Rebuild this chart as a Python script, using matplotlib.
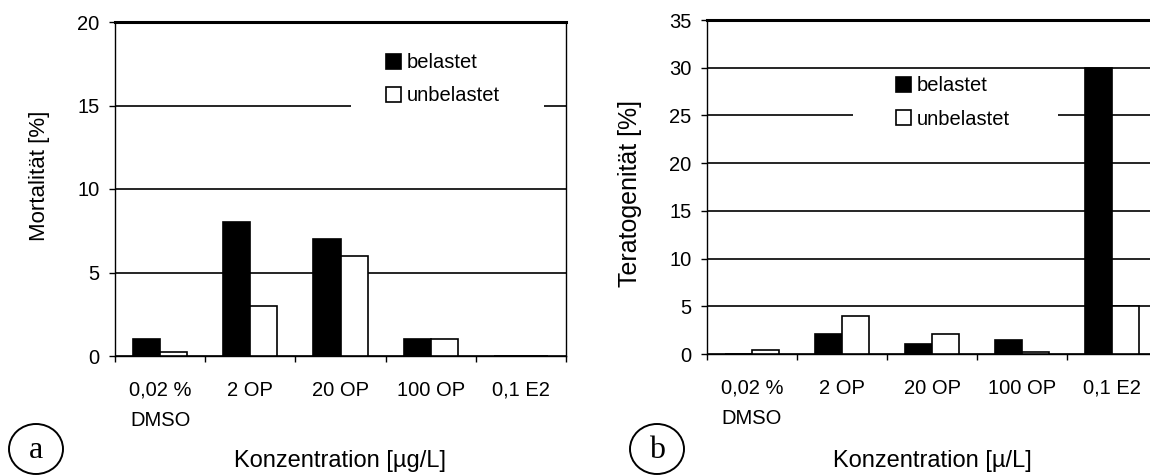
import matplotlib
matplotlib.use('Agg')
import matplotlib.pyplot as plt
from matplotlib.patches import Rectangle, Ellipse
import numpy as np

plt.rcParams['font.family'] = ['Liberation Sans', 'DejaVu Sans']

# Daten
categories = ['0,02 %\nDMSO', '2 OP', '20 OP', '100 OP', '0,1 E2']
series_names = ['belastet', 'unbelastet']

mort_belastet = [1, 8, 7, 1, 0]
mort_unbelastet = [0.25, 3, 6, 1, 0]

tera_belastet = [0, 2.1, 1.1, 1.5, 30]
tera_unbelastet = [0.4, 4, 2.1, 0.25, 5]


def panel(ax, bel, unbel, ymax, ylabel, xlabel, box, leg_anchor, ylab, xlab_y):
    ''' Ein Balkendiagramm '''
    x = np.arange(len(categories))
    w = 0.3
    ax.bar(x - w / 2, bel, w, color='black', edgecolor='black', linewidth=1.2,
           label=series_names[0], zorder=3)
    ax.bar(x + w / 2, unbel, w, color='white', edgecolor='black', linewidth=1.2,
           label=series_names[1], zorder=3)

    ax.set_xlim(-0.5, len(categories) - 0.5)
    ax.set_ylim(0, ymax)
    ax.set_yticks(np.arange(0, ymax + 1, 5))
    ax.yaxis.grid(True, color='black', linewidth=1.2)
    ax.set_axisbelow(True)

    ax.set_xticks(x)
    ax.set_xticklabels(categories, linespacing=1.75)
    ax.set_xticks(np.arange(-0.5, len(categories)), minor=True)
    ax.tick_params(axis='x', which='major', length=0, pad=18, labelsize=14.5)
    ax.tick_params(axis='x', which='minor', length=4, width=1, direction='out')
    ax.tick_params(axis='y', length=4, width=1, direction='out', pad=7, labelsize=14.5)

    for s in ['left', 'right', 'bottom']:
        ax.spines[s].set_linewidth(1.0)
    ax.spines['top'].set_linewidth(2.2)

    # weisser Hintergrund der Legende
    ax.add_patch(Rectangle((box[0], box[1]), box[2], box[3], transform=ax.transAxes,
                           facecolor='white', edgecolor='none', zorder=1))
    ax.legend(loc='upper left', bbox_to_anchor=leg_anchor, frameon=False,
              fontsize=14.5, borderpad=0, borderaxespad=0, handlelength=0.75,
              handleheight=0.75, handletextpad=0.3, labelspacing=0.7)

    ax.set_ylabel(ylabel, fontsize=ylab[2])
    ax.yaxis.set_label_coords(ylab[0], ylab[1])
    ax.set_xlabel(xlabel, fontsize=17)
    ax.xaxis.set_label_coords(0.5, xlab_y)


def main():
    fig = plt.figure(figsize=(11.5, 4.76), dpi=100)
    W, H = 1150, 476

    ax1 = fig.add_axes([115 / W, 1 - 356 / H, 451 / W, 334 / H])
    panel(ax1, mort_belastet, mort_unbelastet, 20, 'Mortalität [%]',
          'Konzentration [µg/L]', (0.523, 0.70, 0.428, 0.25), (0.6, 0.906),
          (-0.144, 0.54, 16), -0.28)

    ax2 = fig.add_axes([707 / W, 1 - 354 / H, 450 / W, 334 / H])
    panel(ax2, tera_belastet, tera_unbelastet, 35, 'Teratogenität [%]',
          'Konzentration [µ/L]', (0.324, 0.656, 0.456, 0.194), (0.42, 0.831),
          (-0.144, 0.48, 18), -0.286)

    # Kreise mit a und b
    for cx, t in [(36, 'a'), (657, 'b')]:
        fig.patches.append(Ellipse((cx / W, 1 - 449 / H), 54 / W, 50 / H,
                                   transform=fig.transFigure, facecolor='none',
                                   edgecolor='black', linewidth=1.4))
        fig.text(cx / W, 1 - 450 / H, t, ha='center', va='center',
                 fontsize=23, family=['Liberation Serif', 'DejaVu Serif'])

    fig.savefig('out.png', dpi=100)


if __name__ == "__main__":
    main()
